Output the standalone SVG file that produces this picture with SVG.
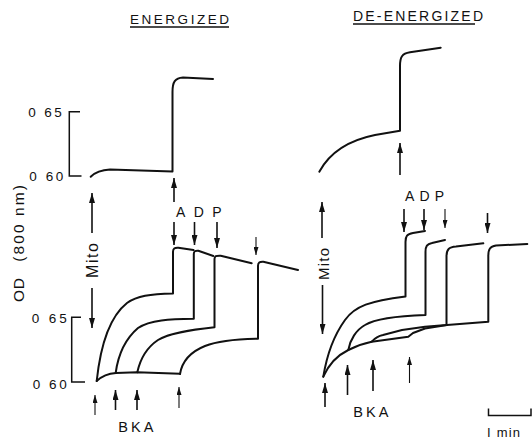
<svg xmlns="http://www.w3.org/2000/svg" width="532" height="440" viewBox="0 0 532 440">
<style>
.t{font-family:"Liberation Sans",Arial,sans-serif;fill:#111;}
.tr{fill:none;stroke:#111;stroke-width:2;stroke-linejoin:round;stroke-linecap:round;}
.ax{fill:none;stroke:#111;stroke-width:1.5;}
.ar{fill:none;stroke:#111;stroke-width:1.6;marker-end:url(#ah);}
.as{fill:none;stroke:#111;stroke-width:1.1;marker-end:url(#ahs);}
</style>
<defs>
<marker id="ah" markerUnits="userSpaceOnUse" markerWidth="10" markerHeight="6" viewBox="0 0 10 6" refX="10" refY="3" orient="auto"><path d="M0,0 L10,3 L0,6 z" fill="#111"/></marker>
<marker id="ahs" markerUnits="userSpaceOnUse" markerWidth="8" markerHeight="5" viewBox="0 0 8 5" refX="8" refY="2.5" orient="auto"><path d="M0,0 L8,2.5 L0,5 z" fill="#111"/></marker>
</defs>
<rect width="532" height="440" fill="#fff"/>

<g id="titles">
<text class="t" x="130" y="24" font-size="13.5" textLength="99" lengthAdjust="spacing">ENERGIZED</text>
<line class="ax" x1="130" y1="27" x2="229" y2="27" stroke-width="1.2"/>
<text class="t" x="353" y="20.7" font-size="14" textLength="130" lengthAdjust="spacing">DE-ENERGIZED</text>
<line class="ax" x1="353" y1="24" x2="475" y2="24" stroke-width="1.2"/>
</g>

<g id="axis-labels">
<text class="t" transform="translate(24,302) rotate(-90)" font-size="15.5"><tspan x="0" y="0" textLength="24" lengthAdjust="spacing">OD</tspan><tspan x="40.3" y="0" textLength="76.7" lengthAdjust="spacing">(800 nm)</tspan></text>
<text class="t" x="28.3" y="117.3" font-size="13.5" textLength="33.4" lengthAdjust="spacing">0 65</text>
<text class="t" x="29.3" y="180.7" font-size="13.5" textLength="34" lengthAdjust="spacing">0 60</text>
<path class="ax" d="M80,111.7 H69.3 V176 H81.5"/>
<text class="t" x="31.7" y="323.3" font-size="13.5" textLength="35" lengthAdjust="spacing">0 65</text>
<text class="t" x="32.7" y="389.3" font-size="13.5" textLength="34" lengthAdjust="spacing">0 60</text>
<path class="ax" d="M81,317.3 H71.7 V382 H85"/>
</g>

<g id="energized-traces">
<path class="tr" d="M90.7,176.7 C95,172.5 100,170 110,169.5 L172.5,171.5 L172.5,92 C172.5,82 175,78 183,77.5 L213,79"/>
<path class="tr" d="M96.7,381 C102,376 108,373.5 116,373 L137,372.3 L180,373.8"/>
<path class="tr" d="M96.7,381 C100,350 108,318 127,303 C137,296 150,294 173,293.5 L173,252 C173,248.5 174.5,247.5 178.3,247.7 L193.5,250"/>
<path class="tr" d="M115.7,372.8 C118,356 124,340 138,328 C150,320 170,319 193.8,318.7 L193.8,254 C193.8,251.2 195,250.5 198.3,250.7 L213.3,256"/>
<path class="tr" d="M137.3,372.3 C140,360 146,348 158,340 C170,333 190,330 214.5,327.3 L214.5,259 C214.5,256 216,255.5 220.7,255.7 L251.7,263.3"/>
<path class="tr" d="M180,374 C182,362 190,352 205,346 C220,340 240,339 258,338.7 L258,266 C258,262.5 259.5,261.5 263.3,261.7 L298,270"/>
</g>

<g id="deenergized-traces">
<path class="tr" d="M319.3,171.7 C330,152 350,140 375,135 L400,130.7 L400,66 C400,57 402,53.5 410,52.3 L440.7,47.7"/>
<path class="tr" d="M323.3,376.7 C328,366 336,356 348.3,350 C358,345 365,343 371.7,341.7 L408.3,336.7 L413,333 L425,328.5 L447,325 L488.3,321.7 L488.3,256 C488.3,249 490,246.5 496,245.5 L527.3,244"/>
<path class="tr" d="M323.3,376.7 C326,360 332,338 345,320 C355,306 370,301 405.5,296.5 L405.5,242 C405.5,236 407,234 413,233 L425,231"/>
<path class="tr" d="M348.3,350 C350,340 356,330 365,325 C375,319 395,316 425.5,315 L425.5,252 C425.5,246 427,244 432,243 L445,240"/>
<path class="tr" d="M371.7,341.7 C375,338 378,336 383,335 L402,330 L425,326.7 L446.5,325 L446.5,256 C446.5,249.5 449,247 456,246.5 L483.3,243.3"/>
</g>

<g id="connectors">
<line class="ar" x1="92" y1="233" x2="92" y2="193"/>
<line class="ar" x1="92" y1="288" x2="92" y2="328"/>
<line class="ar" x1="174" y1="202" x2="174" y2="178"/>
<line class="ar" x1="174" y1="222" x2="174" y2="245"/>
<line class="ar" x1="194.5" y1="222" x2="194.5" y2="245"/>
<line class="ar" x1="217" y1="222" x2="217" y2="248"/>
<line class="as" x1="256" y1="237" x2="256" y2="255"/>
<line class="as" x1="95" y1="415" x2="95" y2="395"/>
<line class="ar" x1="115.5" y1="410" x2="115.5" y2="390"/>
<line class="ar" x1="137" y1="410" x2="137" y2="390"/>
<line class="as" x1="179" y1="408" x2="179" y2="387"/>
<line class="ar" x1="400" y1="175" x2="400" y2="143"/>
<line class="ar" x1="322" y1="238" x2="322" y2="202"/>
<line class="ar" x1="322.5" y1="285" x2="322.5" y2="334"/>
<line class="ar" x1="404" y1="209" x2="404" y2="232"/>
<line class="ar" x1="424" y1="209" x2="424" y2="230"/>
<line class="as" x1="445" y1="209" x2="445" y2="228"/>
<line class="ar" x1="487.5" y1="213" x2="487.5" y2="233"/>
<line class="ar" x1="325" y1="407" x2="325" y2="383"/>
<line class="ar" x1="347.5" y1="395" x2="347.5" y2="365"/>
<line class="ar" x1="373" y1="391" x2="373" y2="360"/>
<line class="as" x1="409.5" y1="383" x2="409.5" y2="357"/>
</g>

<g id="labels">
<text class="t" transform="translate(98,278) rotate(-90)" font-size="16" textLength="35" lengthAdjust="spacing">Mito</text>
<text class="t" transform="translate(328.5,280) rotate(-90)" font-size="15" textLength="32" lengthAdjust="spacing">Mito</text>
<text class="t" x="176" y="216.7" font-size="14" textLength="45.7" lengthAdjust="spacing">ADP</text>
<text class="t" x="405" y="201" font-size="14" textLength="39" lengthAdjust="spacing">ADP</text>
<text class="t" x="118.3" y="431.7" font-size="14.5" textLength="35" lengthAdjust="spacing">BKA</text>
<text class="t" x="353.3" y="416.7" font-size="14.5" textLength="35" lengthAdjust="spacing">BKA</text>
</g>

<g id="scale-bar">
<path class="ax" d="M488.5,408.5 V415.5 H531 V408.5" stroke-width="1.2"/>
<text class="t" x="487" y="436.5" font-size="13" textLength="33" lengthAdjust="spacing">I min</text>
</g>
</svg>
